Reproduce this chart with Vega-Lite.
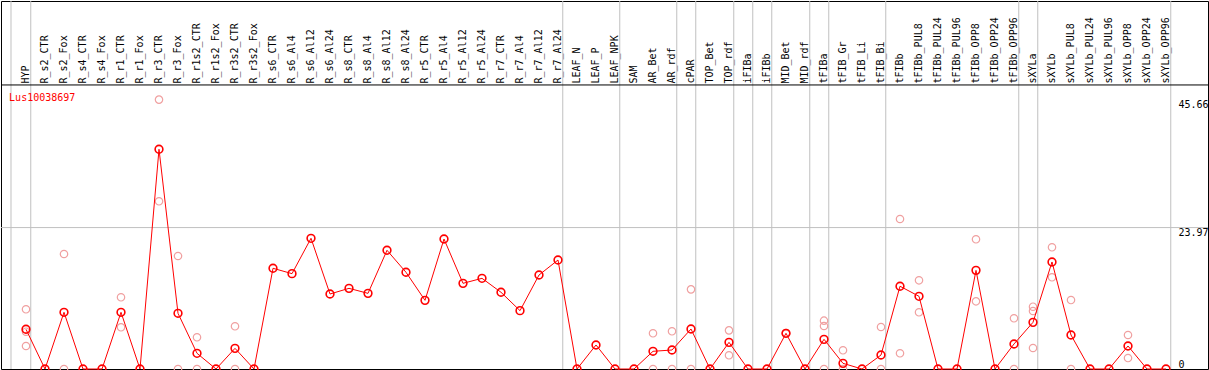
{
  "$schema": "https://vega.github.io/schema/vega-lite/v6.json",
  "width": 1207,
  "height": 368,
  "autosize": "none",
  "padding": {"left": 1, "top": 1, "right": 1, "bottom": 1},
  "background": "white",
  "config": {
    "view": {"stroke": "black", "strokeWidth": 1},
    "font": "DejaVu Sans Mono"
  },
  "datasets": {
    "means": [
      {"sample": "HYP", "value": 6.73},
      {"sample": "R_s2_CTR", "value": 0},
      {"sample": "R_s2_Fox", "value": 9.61},
      {"sample": "R_s4_CTR", "value": 0},
      {"sample": "R_s4_Fox", "value": 0},
      {"sample": "R_r1_CTR", "value": 9.61},
      {"sample": "R_r1_Fox", "value": 0},
      {"sample": "R_r3_CTR", "value": 37.24},
      {"sample": "R_r3_Fox", "value": 9.44},
      {"sample": "R_r1s2_CTR", "value": 2.66},
      {"sample": "R_r1s2_Fox", "value": 0},
      {"sample": "R_r3s2_CTR", "value": 3.5},
      {"sample": "R_r3s2_Fox", "value": 0},
      {"sample": "R_s6_CTR", "value": 17.07},
      {"sample": "R_s6_Al4", "value": 16.16},
      {"sample": "R_s6_Al12", "value": 22.15},
      {"sample": "R_s6_Al24", "value": 12.71},
      {"sample": "R_s8_CTR", "value": 13.67},
      {"sample": "R_s8_Al4", "value": 12.82},
      {"sample": "R_s8_Al12", "value": 20.12},
      {"sample": "R_s8_Al24", "value": 16.39},
      {"sample": "R_r5_CTR", "value": 11.64},
      {"sample": "R_r5_Al4", "value": 22.03},
      {"sample": "R_r5_Al12", "value": 14.52},
      {"sample": "R_r5_Al24", "value": 15.37},
      {"sample": "R_r7_CTR", "value": 13.0},
      {"sample": "R_r7_Al4", "value": 9.89},
      {"sample": "R_r7_Al12", "value": 15.93},
      {"sample": "R_r7_Al24", "value": 18.47},
      {"sample": "LEAF_N", "value": 0},
      {"sample": "LEAF_P", "value": 4.07},
      {"sample": "LEAF_NPK", "value": 0},
      {"sample": "SAM", "value": 0},
      {"sample": "AR_Bet", "value": 3.0},
      {"sample": "AR_rdf", "value": 3.22},
      {"sample": "cPAR", "value": 6.78},
      {"sample": "TOP_Bet", "value": 0},
      {"sample": "TOP_rdf", "value": 4.52},
      {"sample": "iFIBa", "value": 0},
      {"sample": "iFIBb", "value": 0},
      {"sample": "MID_Bet", "value": 6.05},
      {"sample": "MID_rdf", "value": 0},
      {"sample": "tFIBa", "value": 5.03},
      {"sample": "tFIB_Gr", "value": 0.96},
      {"sample": "tFIB_Li", "value": 0},
      {"sample": "tFIB_Bi", "value": 2.37},
      {"sample": "tFIBb", "value": 14.03},
      {"sample": "tFIBb_PUL8", "value": 12.32},
      {"sample": "tFIBb_PUL24", "value": 0},
      {"sample": "tFIBb_PUL96", "value": 0},
      {"sample": "tFIBb_OPP8", "value": 16.72},
      {"sample": "tFIBb_OPP24", "value": 0},
      {"sample": "tFIBb_OPP96", "value": 4.24},
      {"sample": "sXYLa", "value": 7.91},
      {"sample": "sXYLb", "value": 18.14},
      {"sample": "sXYLb_PUL8", "value": 5.76},
      {"sample": "sXYLb_PUL24", "value": 0},
      {"sample": "sXYLb_PUL96", "value": 0},
      {"sample": "sXYLb_OPP8", "value": 3.9},
      {"sample": "sXYLb_OPP24", "value": 0},
      {"sample": "sXYLb_OPP96", "value": 0}
    ],
    "reps": [
      {"sample": "HYP", "value": 10.12},
      {"sample": "HYP", "value": 6.32},
      {"sample": "HYP", "value": 3.9},
      {"sample": "R_s2_Fox", "value": 19.49},
      {"sample": "R_s2_Fox", "value": 0},
      {"sample": "R_r1_CTR", "value": 12.15},
      {"sample": "R_r1_CTR", "value": 7.07},
      {"sample": "R_r3_CTR", "value": 45.66},
      {"sample": "R_r3_CTR", "value": 28.42},
      {"sample": "R_r3_Fox", "value": 19.15},
      {"sample": "R_r3_Fox", "value": 0},
      {"sample": "R_r1s2_CTR", "value": 5.37},
      {"sample": "R_r1s2_CTR", "value": 0},
      {"sample": "R_r3s2_CTR", "value": 7.24},
      {"sample": "R_r3s2_CTR", "value": 0},
      {"sample": "AR_Bet", "value": 6.05},
      {"sample": "AR_Bet", "value": 0},
      {"sample": "AR_rdf", "value": 6.39},
      {"sample": "AR_rdf", "value": 0},
      {"sample": "cPAR", "value": 13.5},
      {"sample": "cPAR", "value": 0},
      {"sample": "TOP_rdf", "value": 6.55},
      {"sample": "TOP_rdf", "value": 2.32},
      {"sample": "MID_Bet", "value": 6.1},
      {"sample": "MID_Bet", "value": 6.0},
      {"sample": "tFIBa", "value": 8.19},
      {"sample": "tFIBa", "value": 7.29},
      {"sample": "tFIBa", "value": 0},
      {"sample": "tFIB_Gr", "value": 3.17},
      {"sample": "tFIB_Gr", "value": 0},
      {"sample": "tFIB_Bi", "value": 7.12},
      {"sample": "tFIB_Bi", "value": 0},
      {"sample": "tFIBb", "value": 25.42},
      {"sample": "tFIBb", "value": 2.66},
      {"sample": "tFIBb_PUL8", "value": 15.03},
      {"sample": "tFIBb_PUL8", "value": 9.61},
      {"sample": "tFIBb_OPP8", "value": 21.98},
      {"sample": "tFIBb_OPP8", "value": 11.47},
      {"sample": "tFIBb_OPP96", "value": 8.59},
      {"sample": "tFIBb_OPP96", "value": 0},
      {"sample": "sXYLa", "value": 10.56},
      {"sample": "sXYLa", "value": 9.83},
      {"sample": "sXYLa", "value": 3.56},
      {"sample": "sXYLb", "value": 20.63},
      {"sample": "sXYLb", "value": 15.54},
      {"sample": "sXYLb_PUL8", "value": 11.69},
      {"sample": "sXYLb_PUL8", "value": 0},
      {"sample": "sXYLb_OPP8", "value": 5.76},
      {"sample": "sXYLb_OPP8", "value": 1.86}
    ],
    "separators": [
      {"sample": "HYP"},
      {"sample": "R_r7_Al24"},
      {"sample": "LEAF_NPK"},
      {"sample": "AR_rdf"},
      {"sample": "cPAR"},
      {"sample": "TOP_rdf"},
      {"sample": "iFIBa"},
      {"sample": "iFIBb"},
      {"sample": "MID_rdf"},
      {"sample": "tFIBa"},
      {"sample": "tFIB_Bi"},
      {"sample": "tFIBb_OPP96"},
      {"sample": "sXYLa"},
      {"sample": "sXYLb_OPP96"}
    ],
    "gene": [{"gene": "Lus10038697"}]
  },
  "layer": [
    {
      "data": {"name": "separators"},
      "mark": {"type": "rule", "color": "#c0c0c0", "strokeWidth": 1},
      "encoding": {
        "x": {
          "field": "sample",
          "type": "nominal",
          "bandPosition": 0.75,
          "scale": {
            "type": "band",
            "domain": ["HYP","R_s2_CTR","R_s2_Fox","R_s4_CTR","R_s4_Fox","R_r1_CTR","R_r1_Fox","R_r3_CTR","R_r3_Fox","R_r1s2_CTR","R_r1s2_Fox","R_r3s2_CTR","R_r3s2_Fox","R_s6_CTR","R_s6_Al4","R_s6_Al12","R_s6_Al24","R_s8_CTR","R_s8_Al4","R_s8_Al12","R_s8_Al24","R_r5_CTR","R_r5_Al4","R_r5_Al12","R_r5_Al24","R_r7_CTR","R_r7_Al4","R_r7_Al12","R_r7_Al24","LEAF_N","LEAF_P","LEAF_NPK","SAM","AR_Bet","AR_rdf","cPAR","TOP_Bet","TOP_rdf","iFIBa","iFIBb","MID_Bet","MID_rdf","tFIBa","tFIB_Gr","tFIB_Li","tFIB_Bi","tFIBb","tFIBb_PUL8","tFIBb_PUL24","tFIBb_PUL96","tFIBb_OPP8","tFIBb_OPP24","tFIBb_OPP96","sXYLa","sXYLb","sXYLb_PUL8","sXYLb_PUL24","sXYLb_PUL96","sXYLb_OPP8","sXYLb_OPP24","sXYLb_OPP96"],
            "range": [15.5, 1174.5],
            "paddingInner": 0,
            "paddingOuter": 0
          },
          "axis": {
            "orient": "top",
            "title": null,
            "labelAngle": -90,
            "labelAlign": "left",
            "labelBaseline": "middle",
            "labelPadding": -82,
            "labelFont": "DejaVu Sans Mono",
            "labelFontSize": 10,
            "labelColor": "black",
            "labelOverlap": false,
            "labelBound": false,
            "labelFlush": false,
            "ticks": false,
            "domain": false,
            "grid": false
          }
        }
      }
    },
    {
      "data": {"name": "gene"},
      "mark": {"type": "rule", "color": "#c0c0c0", "strokeWidth": 1},
      "encoding": {
        "x": {"datum": "HYP", "type": "nominal", "bandPosition": -0.29}
      }
    },
    {
      "data": {"name": "gene"},
      "mark": {"type": "rule", "color": "#c0c0c0", "strokeWidth": 1},
      "encoding": {
        "y": {"datum": 23.97, "type": "quantitative"}
      }
    },
    {
      "data": {"name": "gene"},
      "mark": {"type": "rule", "color": "black", "strokeWidth": 1},
      "encoding": {
        "y": {"datum": 48.14, "type": "quantitative"}
      }
    },
    {
      "data": {"name": "reps"},
      "mark": {"type": "point", "shape": "circle", "filled": false, "color": "#f0a0a0", "size": 55, "strokeWidth": 1.2, "opacity": 1},
      "encoding": {
        "x": {"field": "sample", "type": "nominal"},
        "y": {"field": "value", "type": "quantitative"}
      }
    },
    {
      "data": {"name": "means"},
      "mark": {"type": "line", "color": "#ff0000", "strokeWidth": 1},
      "encoding": {
        "x": {"field": "sample", "type": "nominal"},
        "y": {
          "field": "value",
          "type": "quantitative",
          "scale": {"domain": [0, 62.37], "nice": false, "zero": true},
          "axis": {
            "orient": "right",
            "title": null,
            "values": [0, 23.97, 45.66],
            "format": ".2~f",
            "labelAlign": "left",
            "labelPadding": -30,
            "labelBaseline": {"condition": {"test": "datum.value == 0", "value": "bottom"}, "value": "top"},
            "labelFont": "DejaVu Sans Mono",
            "labelFontSize": 10,
            "labelColor": "black",
            "labelBound": false,
            "labelFlush": false,
            "labelOverlap": false,
            "ticks": false,
            "domain": false,
            "grid": false
          }
        },
        "order": {"value": null}
      }
    },
    {
      "data": {"name": "means"},
      "mark": {"type": "point", "shape": "circle", "filled": false, "color": "#ff0000", "size": 60, "strokeWidth": 1.6, "opacity": 1},
      "encoding": {
        "x": {"field": "sample", "type": "nominal"},
        "y": {"field": "value", "type": "quantitative"}
      }
    },
    {
      "data": {"name": "gene"},
      "mark": {"type": "text", "color": "#ff0000", "align": "left", "baseline": "alphabetic", "font": "DejaVu Sans Mono", "fontSize": 10},
      "encoding": {
        "x": {"datum": "HYP", "type": "nominal", "bandPosition": -0.39},
        "y": {"datum": 45.4, "type": "quantitative"},
        "text": {"field": "gene", "type": "nominal"}
      }
    }
  ]
}
